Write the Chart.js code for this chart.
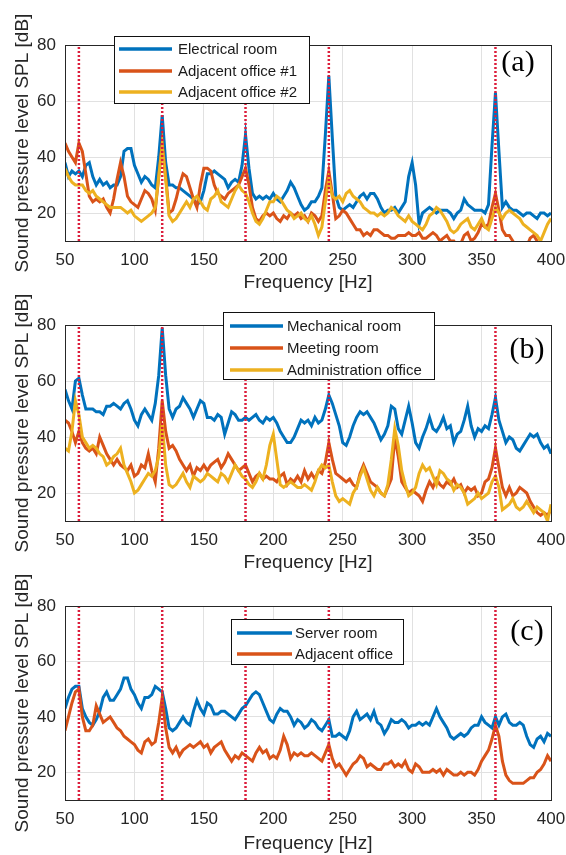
<!DOCTYPE html>
<html>
<head>
<meta charset="utf-8">
<script src="https://cdn.jsdelivr.net/npm/chart.js@4.4.1/dist/chart.umd.min.js"></script>
<style>
  html, body { margin: 0; padding: 0; background: #fff; overflow: hidden; }
  .panel { position: absolute; left: 0; width: 566px; height: 300px; }
</style>
</head>
<body>
<div class="panel" style="top:0px"><canvas id="chartA" width="566" height="300"></canvas></div>
<div class="panel" style="top:280px"><canvas id="chartB" width="566" height="300"></canvas></div>
<div class="panel" style="top:555px"><canvas id="chartC" width="566" height="300"></canvas></div>
<script>
// frequency bins [Hz]
const freq = [
  50, 52.5, 55, 57.5, 60, 62.5, 65, 67.5, 70, 72.5,
  75, 77.5, 80, 82.5, 85, 87.5, 90, 92.5, 95, 97.5,
  100, 102.5, 105, 107.5, 110, 112.5, 115, 117.5, 120, 122.5,
  125, 127.5, 130, 132.5, 135, 137.5, 140, 142.5, 145, 147.5,
  150, 152.5, 155, 157.5, 160, 162.5, 165, 167.5, 170, 172.5,
  175, 177.5, 180, 182.5, 185, 187.5, 190, 192.5, 195, 197.5,
  200, 202.5, 205, 207.5, 210, 212.5, 215, 217.5, 220, 222.5,
  225, 227.5, 230, 232.5, 235, 237.5, 240, 242.5, 245, 247.5,
  250, 252.5, 255, 257.5, 260, 262.5, 265, 267.5, 270, 272.5,
  275, 277.5, 280, 282.5, 285, 287.5, 290, 292.5, 295, 297.5,
  300, 302.5, 305, 307.5, 310, 312.5, 315, 317.5, 320, 322.5,
  325, 327.5, 330, 332.5, 335, 337.5, 340, 342.5, 345, 347.5,
  350, 352.5, 355, 357.5, 360, 362.5, 365, 367.5, 370, 372.5,
  375, 377.5, 380, 382.5, 385, 387.5, 390, 392.5, 395, 397.5,
  400
];
const harmonics = [60, 120, 180, 240, 360];
const xTicks = [50, 100, 150, 200, 250, 300, 350, 400];
const yTicks = [20, 40, 60, 80];

// (a)
const electricalRoom = [
  38, 33, 35, 34, 35, 33, 37, 38, 33, 30,
  32, 30, 31, 29, 30, 30, 33, 42, 43, 43,
  37, 34, 31, 33, 32, 30, 29, 40, 55, 38,
  30, 30, 29, 29, 28, 27, 26, 25, 23, 24,
  28, 34, 34, 35, 34, 33, 32, 29, 31, 32,
  31, 37, 48, 36, 27, 25, 26, 25, 26, 25,
  27, 25, 24, 26, 28, 31, 29, 26, 23, 21,
  22, 24, 24, 26, 29, 48, 69, 47, 26, 22,
  21, 22, 23, 22, 24, 26, 27, 25, 27, 27,
  25, 22, 20, 21, 21, 22, 20, 22, 24, 33,
  38, 30, 16, 20, 21, 22, 21, 20, 21, 21,
  21, 20, 18, 20, 21, 25, 23, 22, 21, 21,
  21, 20, 23, 44, 63, 42, 22, 24, 22, 21,
  21, 20, 19, 20, 20, 19, 18, 20, 20, 19,
  20
];
const adjacentOffice1 = [
  45, 42, 40, 38, 45, 42, 34, 26, 24, 25,
  24, 25, 22, 20, 25, 32, 38, 33, 26, 24,
  23, 22, 25, 28, 27, 25, 21, 33, 45, 33,
  20, 21, 25, 30, 34, 33, 29, 25, 22, 30,
  36, 36, 35, 30, 27, 26, 25, 27, 28, 29,
  30, 33, 36, 30, 22, 18, 17, 19, 20, 19,
  20, 18, 17, 19, 18, 20, 19, 20, 18, 19,
  17, 20, 19, 17, 19, 28, 35, 27, 18, 19,
  21, 20, 18, 16, 14, 14, 12, 13, 12, 14,
  14, 13, 12, 12, 11, 11, 12, 12, 12, 13,
  12, 12, 13, 11, 11, 12, 13, 12, 10, 11,
  12, 10, 10, 8, 9, 12, 13, 10, 11, 13,
  16, 15, 16, 22, 27, 21, 14, 12, 12, 10,
  8, 7, 7, 8, 11, 12, 10, 8, 7, 8,
  8
];
const adjacentOffice2 = [
  36, 33, 31, 30, 30, 30, 28, 27, 28, 26,
  25, 24, 23, 22, 22, 22, 22, 21, 20, 21,
  19, 18, 17, 18, 19, 20, 22, 33, 44, 32,
  19, 17, 18, 20, 22, 24, 22, 25, 26, 24,
  22, 21, 25, 26, 28, 24, 23, 22, 25, 28,
  30, 28, 27, 24, 20, 17, 16, 18, 21, 24,
  24, 26, 25, 23, 21, 20, 18, 19, 20, 18,
  17, 19, 16, 12, 15, 24, 32, 26, 25, 26,
  24, 27, 28, 26, 25, 24, 22, 21, 20, 20,
  19, 20, 19, 20, 22, 21, 19, 18, 17, 19,
  17, 16, 15, 14, 16, 19, 20, 22, 21, 19,
  17, 14, 13, 14, 16, 17, 18, 15, 14, 16,
  18, 15, 14, 18, 22, 20, 18, 20, 21, 20,
  19, 18, 16, 15, 14, 13, 12, 10, 13, 16,
  18
];

// (b)
const mechanicalRoom = [
  57, 53, 50, 60, 61, 55, 50, 50, 50, 49,
  49, 48, 51, 51, 52, 51, 50, 52, 53, 50,
  46, 44, 48, 50, 48, 46, 52, 62, 79, 62,
  50, 47, 50, 51, 54, 52, 50, 47, 50, 53,
  52, 47, 47, 46, 48, 47, 41, 45, 49, 48,
  46, 46, 47, 46, 47, 48, 46, 45, 47, 46,
  47, 45, 42, 40, 38, 38, 40, 43, 46, 45,
  46, 44, 47, 45, 46, 50, 55, 52, 48, 44,
  38, 37, 40, 44, 47, 49, 48, 49, 47, 45,
  42, 39, 41, 44, 51, 50, 43, 41, 46, 51,
  45, 38, 36, 40, 43, 47, 43, 42, 44, 47,
  43, 44, 38, 41, 42, 46, 51, 44, 40, 43,
  42, 44, 43, 48, 54, 46, 42, 38, 40, 39,
  36, 35, 37, 39, 41, 40, 41, 38, 36, 37,
  34
];
const meetingRoom = [
  46, 45, 42, 38, 42, 38, 36, 35, 36, 34,
  40, 37, 34, 32, 30, 32, 30, 29, 28, 30,
  26, 27, 30, 29, 34, 28, 24, 36, 53, 42,
  36, 37, 35, 32, 30, 28, 30, 26, 29, 28,
  30, 28, 30, 31, 32, 29, 31, 34, 32, 30,
  28, 29, 30, 27, 24, 26, 27, 25, 26, 25,
  25, 24, 26, 27, 23, 25, 24, 26, 24, 28,
  25, 27, 25, 28, 27, 31, 38, 32, 27, 26,
  25, 24, 25, 23, 22, 27, 30, 27, 24, 23,
  22, 20, 19, 22, 25, 40, 33, 24, 22, 20,
  21, 20, 19, 17, 21, 24, 22, 25, 23, 22,
  24, 23, 25, 22, 23, 20, 22, 21, 22, 19,
  20, 24, 25, 29, 36, 29, 22, 19, 22, 19,
  20, 22, 21, 20, 17, 15, 13, 12, 13, 12,
  14
];
const administrationOffice = [
  36, 35, 42, 53, 48, 40, 38, 36, 37, 36,
  34, 33, 30, 31, 33, 34, 36, 30, 27, 24,
  20, 21, 23, 25, 27, 26, 28, 33, 45, 30,
  23, 22, 23, 25, 27, 24, 22, 26, 25, 24,
  25, 27, 26, 25, 24, 27, 26, 24, 27, 30,
  28, 26, 25, 23, 22, 24, 27, 25, 30, 37,
  41, 32, 23, 22, 23, 24, 23, 22, 22, 23,
  22, 21, 24, 28, 30, 29, 30, 24, 19, 17,
  18, 17, 16, 20, 22, 26, 29, 25, 21, 19,
  22, 20, 19, 23, 32, 43, 37, 28, 23, 19,
  20, 22, 27, 30, 28, 29, 26, 23, 28, 27,
  25, 24, 21, 23, 22, 20, 16, 17, 18, 20,
  18, 19, 20, 24, 26, 22, 14, 15, 16, 18,
  15, 14, 15, 17, 15, 13, 15, 14, 13, 10,
  16
];

// (c)
const serverRoom = [
  43, 47, 50, 51, 51, 43, 40, 38, 37, 39,
  42, 47, 49, 46, 46, 48, 50, 54, 54, 50,
  48, 45, 43, 47, 47, 48, 51, 50, 49, 43,
  36, 35, 36, 38, 40, 38, 37, 42, 46, 43,
  41, 45, 44, 41, 41, 42, 42, 41, 40, 39,
  41, 43, 44, 46, 48, 49, 48, 45, 42, 39,
  38, 41, 43, 42, 42, 40, 37, 39, 38, 36,
  37, 39, 38, 36, 35, 37, 39, 33, 33, 34,
  33, 32, 35, 40, 42, 39, 40, 41, 39, 42,
  38, 37, 34, 36, 39, 38, 38, 39, 38, 36,
  37, 37, 38, 37, 38, 37, 40, 43, 40, 38,
  36, 33, 32, 33, 34, 33, 34, 36, 37, 37,
  40, 38, 37, 36, 40, 37, 40, 41, 38, 37,
  37, 38, 37, 33, 30, 29, 32, 33, 31, 34,
  33
];
const adjacentOffice = [
  35, 40, 45, 49, 50, 40, 35, 35, 37, 44,
  41, 38, 39, 40, 38, 36, 35, 33, 32, 31,
  30, 28, 27, 31, 32, 30, 31, 38, 47, 36,
  29, 27, 29, 26, 28, 29, 30, 29, 30, 31,
  29, 30, 27, 29, 30, 31, 28, 26, 24, 26,
  25, 27, 26, 25, 24, 27, 29, 27, 28, 25,
  26, 25, 28, 33, 30, 25, 27, 26, 27, 26,
  26, 27, 26, 25, 24, 27, 30, 25, 22, 23,
  21, 19, 21, 23, 24, 26, 25, 22, 23, 22,
  21, 21, 23, 23, 24, 22, 23, 22, 24, 21,
  20, 23, 22, 20, 20, 20, 21, 20, 21, 19,
  21, 20, 19, 19, 20, 19, 20, 20, 19, 21,
  24, 26, 28, 32, 37, 33, 24, 19, 17, 16,
  16, 16, 16, 17, 18, 18, 20, 21, 23, 26,
  24
];

const BLUE = '#0072BD', ORANGE = '#D95319', YELLOW = '#EDB120', HARM = '#dc1e3c';
const TEXT = '#262626';
const SANS = 'Arial, "Liberation Sans", Helvetica, sans-serif';

const boxLegend = {
    id: 'boxLegend',
    afterDatasetsDraw(chart, args, opts){
        const c = chart.ctx;
        const a = chart.chartArea;
        c.save();
        c.strokeStyle = TEXT;
        c.lineWidth = 1;
        c.strokeRect(Math.round(a.left) + 0.5, Math.round(a.top) + 0.5,
            Math.round(a.right - a.left), Math.round(a.bottom - a.top));

        const b = opts.box;
        c.fillStyle = '#fff';
        c.fillRect(b.x, b.y, b.w, b.h);
        c.strokeStyle = '#111';
        c.strokeRect(b.x + 0.5, b.y + 0.5, b.w, b.h);
        c.font = '15px ' + SANS;
        c.textBaseline = 'middle';
        c.textAlign = 'left';
        chart.data.datasets.filter(d => !d.harmonic).forEach((d, i) => {
            const y = opts.rows[i];
            c.strokeStyle = d.borderColor;
            c.lineWidth = 3.5;
            c.beginPath();
            c.moveTo(opts.lineX[0], y);
            c.lineTo(opts.lineX[1], y);
            c.stroke();
            c.fillStyle = '#1a1a1a';
            c.fillText(d.label, opts.textX, y + 1);
        });

        c.font = '30px "Times New Roman", "Liberation Serif", serif';
        c.textAlign = 'center';
        c.fillStyle = '#000';
        c.fillText(opts.tag.text, opts.tag.x, opts.tag.y);
        c.restore();
    }
};

function makePanel(id, series, plotTop, xHeight, titlePad, legend){
    const datasets = series.map((s, i) => ({
        label: s.label,
        data: freq.map((f, k) => ({x: f, y: s.values[k]})),
        borderColor: s.color,
        borderWidth: 3,
        pointRadius: 0,
        tension: 0,
        order: series.length - i,
        clip: 0
    }));
    harmonics.forEach(h => {
        datasets.push({
            label: '',
            harmonic: true,
            data: [{x: h, y: 10}, {x: h, y: 80}],
            borderColor: HARM,
            borderWidth: 2.5,
            borderDash: [2, 2],
            pointRadius: 0,
            order: 0,
            clip: 0
        });
    });

    return new Chart(document.getElementById(id), {
        type: 'line',
        data: {datasets},
        options: {
            responsive: false,
            devicePixelRatio: 1,
            animation: false,
            layout: {padding: {left: 0, right: 15, top: plotTop, bottom: 0}},
            plugins: {
                legend: {display: false},
                tooltip: {enabled: false},
                boxLegend: legend
            },
            scales: {
                x: {
                    type: 'linear',
                    min: 50,
                    max: 400,
                    afterBuildTicks: s => { s.ticks = xTicks.map(v => ({value: v})); },
                    afterFit: s => { s.height = xHeight; s.paddingLeft = 0; s.paddingRight = 0; },
                    grid: {color: '#e1e1e1', drawTicks: false},
                    border: {display: true, color: TEXT},
                    ticks: {color: TEXT, padding: 9, maxRotation: 0, font: {family: SANS, size: 17}},
                    title: {display: true, text: 'Frequency [Hz]', color: TEXT,
                        padding: {top: 4, bottom: titlePad}, font: {family: SANS, size: 19}}
                },
                y: {
                    min: 10,
                    max: 80,
                    afterBuildTicks: s => { s.ticks = yTicks.map(v => ({value: v})); },
                    afterFit: s => { s.width = 65; },
                    grid: {color: '#e1e1e1', drawTicks: false},
                    border: {display: true, color: TEXT},
                    ticks: {color: TEXT, padding: 9, font: {family: SANS, size: 17}},
                    title: {display: true, text: 'Sound pressure level SPL [dB]', color: TEXT,
                        padding: {top: 11, bottom: 4}, font: {family: SANS, size: 19}}
                }
            }
        },
        plugins: [boxLegend]
    });
}

makePanel('chartA', [
    {label: 'Electrical room', values: electricalRoom, color: BLUE},
    {label: 'Adjacent office #1', values: adjacentOffice1, color: ORANGE},
    {label: 'Adjacent office #2', values: adjacentOffice2, color: YELLOW}
], 45, 59, 6, {
    box: {x: 114, y: 36, w: 195, h: 67},
    lineX: [119, 172], textX: 178, rows: [49, 71, 92],
    tag: {text: '(a)', x: 518, y: 63}
});

makePanel('chartB', [
    {label: 'Mechanical room', values: mechanicalRoom, color: BLUE},
    {label: 'Meeting room', values: meetingRoom, color: ORANGE},
    {label: 'Administration office', values: administrationOffice, color: YELLOW}
], 45, 59, 6, {
    box: {x: 223, y: 32, w: 211, h: 67},
    lineX: [230, 283], textX: 287, rows: [46, 68, 90],
    tag: {text: '(b)', x: 527, y: 70}
});

makePanel('chartC', [
    {label: 'Server room', values: serverRoom, color: BLUE},
    {label: 'Adjacent office', values: adjacentOffice, color: ORANGE}
], 51, 55, 0, {
    box: {x: 231, y: 64, w: 172, h: 45},
    lineX: [237, 292], textX: 295, rows: [78, 99],
    tag: {text: '(c)', x: 527, y: 77}
});
</script>
</body>
</html>
